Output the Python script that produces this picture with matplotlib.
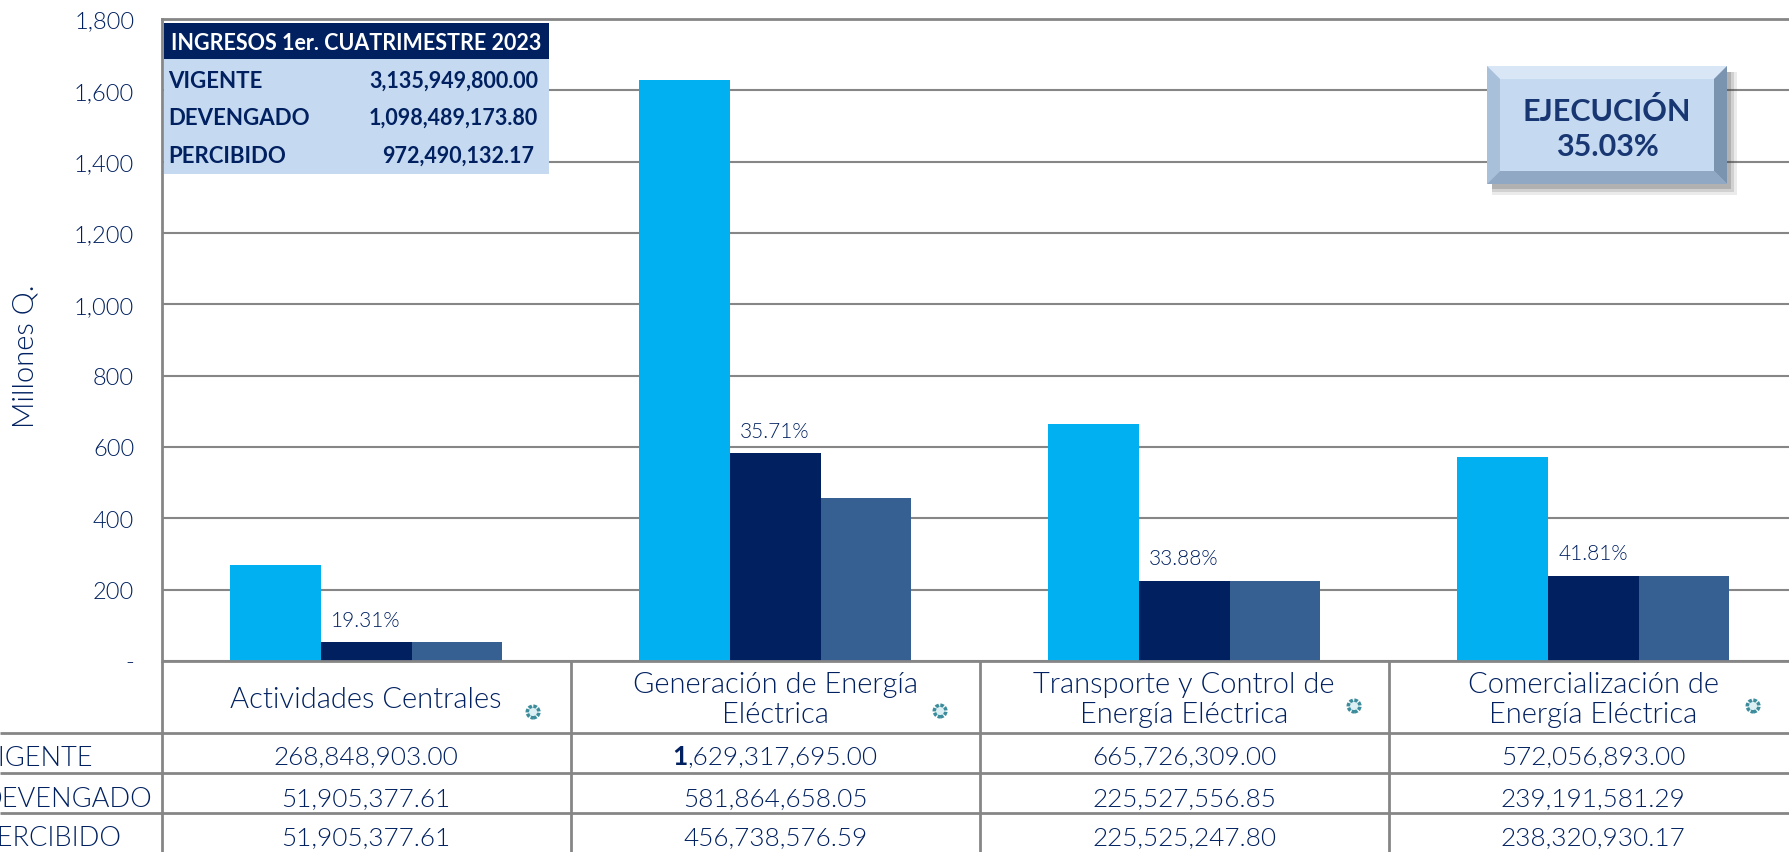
import matplotlib
matplotlib.use("Agg")
import matplotlib.pyplot as plt
import numpy as np
from matplotlib.patches import Rectangle, Polygon

categories = ["Actividades Centrales", "Generación de Energía\nEléctrica",
              "Transporte y Control de\nEnergía Eléctrica", "Comercialización de\nEnergía Eléctrica"]
vigente = [268848903.00, 1629317695.00, 665726309.00, 572056893.00]
devengado = [51905377.61, 581864658.05, 225527556.85, 239191581.29]
percibido = [51905377.61, 456738576.59, 225525247.80, 238320930.17]
pct_labels = ["19.31%", "35.71%", "33.88%", "41.81%"]
yticks = [0, 200, 400, 600, 800, 1000, 1200, 1400, 1600, 1800]
ytick_labels = ["-", "200", "400", "600", "800", "1,000", "1,200", "1,400", "1,600", "1,800"]
row_names = ["VIGENTE", "DEVENGADO", "PERCIBIDO"]
summary_title = "INGRESOS 1er. CUATRIMESTRE 2023"
summary_values = ["3,135,949,800.00", "1,098,489,173.80", "972,490,132.17"]
exec_text = "EJECUCIÓN\n35.03%"

NAVY = "#002060"; SKY = "#00B0F0"; STEEL = "#366092"; PALE = "#C5D9F1"; GRID = "#868686"
FONT = ["Lato", "DejaVu Sans"]
LIGHT = 300
plt.rcParams["font.family"] = FONT
W, H = 1789, 853
fig = plt.figure(figsize=(W/100, H/100), dpi=100, facecolor="white")

def box(l, t, r, b):
    return [l/W, 1-b/H, (r-l)/W, (b-t)/H]

ax = fig.add_axes(box(162, 20, 1789, 662))
x = np.arange(4)
w = 2/9
ax.set_axisbelow(True)
ax.grid(axis="y", color=GRID, lw=1.5)
ax.bar(x-w, np.array(vigente)/1e6, w, color=SKY)
ax.bar(x, np.array(devengado)/1e6, w, color=NAVY)
ax.bar(x+w, np.array(percibido)/1e6, w, color=STEEL)
for xi, d, p in zip(x, devengado, pct_labels):
    ax.annotate(p, (xi, d/1e6), xytext=(0, 16), textcoords="offset points", ha="center", va="center",
                fontsize=15, color=NAVY, fontweight=LIGHT)
ax.set_xlim(-0.499, 3.479)
ax.set_ylim(0, 1800)
ax.set_xticks([])
ax.set_yticks(yticks, ytick_labels)
ax.tick_params(axis="y", length=0, pad=20, labelsize=17, labelcolor=NAVY)
for t in ax.get_yticklabels():
    t.set_fontweight(LIGHT)
for s in ["right", "bottom"]:
    ax.spines[s].set_visible(False)
for s in ["left", "top"]:
    ax.spines[s].set_color(GRID); ax.spines[s].set_linewidth(2)
ax.set_ylabel("Millones Q.", fontsize=21, color=NAVY, fontweight=LIGHT)
ax.yaxis.set_label_coords(-(162-39)/(1789-162), 0.477)

# table under the chart, sharing the chart's category scale
tb = fig.add_axes(box(162, 662, 1789, 853), facecolor="none")
tb.set_xlim(ax.get_xlim()); tb.set_ylim(853, 662); tb.axis("off")
left = -0.499 - 162/409
for y, xl in [(662, -0.499), (734, left), (774, left), (814, left)]:
    tb.plot([xl, 3.479], [y, y], color=GRID, lw=2, clip_on=False, solid_capstyle="butt")
for xv in [-0.499, 0.5, 1.5, 2.5]:
    tb.plot([xv, xv], [662, 853], color=GRID, lw=2, clip_on=False, solid_capstyle="butt")
tb.text(0, 700, categories[0], ha="center", va="center", fontsize=21, color=NAVY, fontweight=LIGHT)
for i in (1, 2, 3):
    tb.text(i, 700, categories[i], ha="center", va="center", fontsize=21, color=NAVY, fontweight=LIGHT,
            linespacing=1.2)
for xi, yi, dx in zip(x, [713, 712, 707, 707], [167, 165, 170, 160]):
    tb.scatter([xi + dx/409], [yi], s=70, facecolor="#DCEFF3", edgecolor="#3C8C9C", lw=2.5, ls=(0, (1, 0.4)), zorder=3)
name_y = [759, 800, 839]
value_y = [755, 797, 836]
renderer = fig.canvas.get_renderer()
for yn, yi, name, vals in zip(name_y, value_y, row_names, [vigente, devengado, percibido]):
    tb.text(left - 19/409, yn, name, ha="left", va="center", fontsize=19.5, color=NAVY, fontweight=LIGHT, clip_on=False)
    for xi, v in zip(x, vals):
        s = f"{v:,.2f}"
        if v >= 1e9:  # the reference shows this leading digit in bold
            bold = tb.text(xi, yi, s[0], ha="right", va="center_baseline", fontsize=18.8, color=NAVY, fontweight="bold")
            rest = tb.text(xi, yi, s[1:], ha="left", va="center_baseline", fontsize=18.8, color=NAVY, fontweight=LIGHT)
            bw = bold.get_window_extent(renderer).width / 409
            rw = rest.get_window_extent(renderer).width / 409
            split = xi + (bw - rw) / 2
            bold.set_x(split); rest.set_x(split)
        else:
            tb.text(xi, yi, s, ha="center", va="center_baseline", fontsize=18.8, color=NAVY, fontweight=LIGHT)

# overlay in pixel coordinates
ov = fig.add_axes([0, 0, 1, 1], facecolor="none")
ov.set_xlim(0, W); ov.set_ylim(H, 0); ov.axis("off")
ov.add_patch(Rectangle((164, 24), 385, 151, fc=PALE, ec="none"))
ov.add_patch(Rectangle((164, 24), 385, 36, fc=NAVY, ec="none"))
ov.text(356, 43, summary_title, color="white", fontweight="bold", fontsize=15.5, ha="center", va="center")
for yi, name, val, xr in zip([81, 118, 156], row_names, summary_values, [538, 538, 534]):
    ov.text(168, yi, name, color=NAVY, fontweight="bold", fontsize=16, ha="left", va="center")
    ov.text(xr, yi, val, color=NAVY, fontweight="bold", fontsize=15.5, ha="right", va="center")

l, t, r, b, e = 1487, 67, 1727, 185, 13
for k, a in zip([10, 7, 4], [0.10, 0.15, 0.22]):
    ov.add_patch(Rectangle((l+5, t+6), r-l+k-5, b-t+k-5, fc="#404040", ec="none", alpha=a))
ov.add_patch(Rectangle((l, t), r-l, b-t, fc=PALE, ec="none"))
ov.add_patch(Polygon([(l, t), (r, t), (r-e, t+e), (l+e, t+e)], fc="#D8E6F5", ec="none"))
ov.add_patch(Polygon([(l, t), (l+e, t+e), (l+e, b-e), (l, b)], fc="#A9C0DB", ec="none"))
ov.add_patch(Polygon([(l, b), (l+e, b-e), (r-e, b-e), (r, b)], fc="#90A8C4", ec="none"))
ov.add_patch(Polygon([(r, t), (r-e, t+e), (r-e, b-e), (r, b)], fc="#7A93AF", ec="none"))
ov.text((l+r)/2, 129, exec_text, color=NAVY, fontweight="bold", fontsize=22, ha="center", va="center",
        linespacing=1.3, alpha=0.88)

fig.savefig("out.png", dpi=100)
